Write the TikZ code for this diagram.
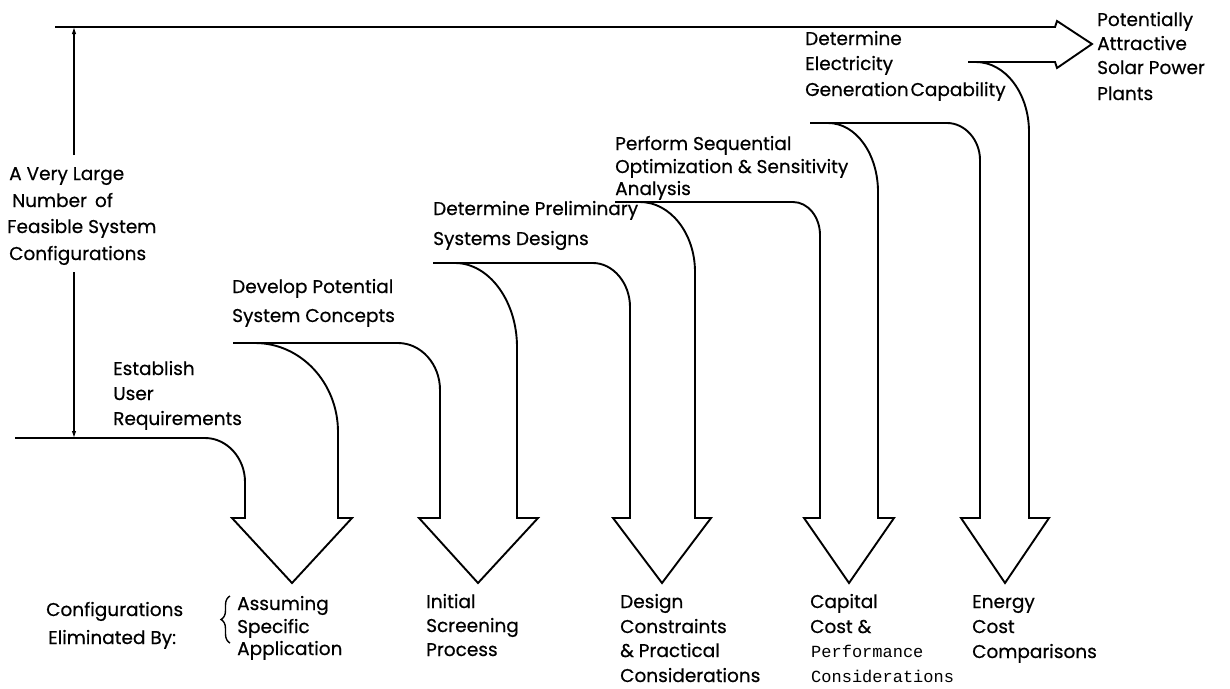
\documentclass[tikz,border=0pt]{standalone}
\usepackage{fontspec}
\setmainfont{Poppins}
\newfontfamily\lblsans{Poppins}[FakeBold=0.5]
\newfontfamily\lblmono{Liberation Mono}
\usetikzlibrary{arrows.meta,decorations.pathreplacing}
\begin{document}
\begin{tikzpicture}[x=1pt,y=-1pt,
  band/.style={line width=1.9pt, line join=miter},
  dim/.style={line width=1.1pt, -{Latex[length=7pt,width=4.5pt]}},
  lbl/.style={font=\lblsans\fontsize{18.5}{23}\selectfont, inner sep=0pt, anchor=base west},
  mono/.style={font=\lblmono\fontsize{17}{20}\selectfont, inner sep=0pt, anchor=base west}]
\fill[white] (0,0) rectangle (1230,688);
\useasboundingbox (0,0) rectangle (1230,688);

% top band with arrowhead
\draw[band] (968,62) -- (1055,62) -- (1057,68) -- (1092,44) -- (1057,21) -- (1055,27) -- (55,27);

% arrow 1
\draw[band] (15,438) -- (205,438) .. controls (227,438) and (245,458) .. (245,482)
  -- (245,518) -- (232,518) -- (292,583) -- (352,518) -- (338,518) -- (338,432)
  .. controls (338,383) and (301,343) .. (255,343);
% arrow 2
\draw[band] (233,343) -- (398,343) .. controls (421,343) and (440,364) .. (440,390)
  -- (440,518) -- (419,518) -- (478,583) -- (538,518) -- (517,518) -- (517,347)
  .. controls (517,301) and (489,263) .. (455,263);
% arrow 3
\draw[band] (433,263) -- (593,263) .. controls (613,263) and (630,283) .. (630,307)
  -- (630,518) -- (613,518) -- (662,583) -- (711,518) -- (695,518) -- (695,272)
  .. controls (695,233) and (670,202) .. (640,202);
% arrow 4
\draw[band] (615,202) -- (793,202) .. controls (808,202) and (820,217) .. (820,235)
  -- (820,518) -- (804,518) -- (849,583) -- (894,518) -- (878,518) -- (878,192)
  .. controls (878,154) and (856,123) .. (828,123);
% arrow 5
\draw[band] (810,123) -- (947,123) .. controls (965,123) and (980,140) .. (980,160)
  -- (980,518) -- (961,518) -- (1005,583) -- (1049,518) -- (1029,518) -- (1029,132)
  .. controls (1029,93) and (1005,62) .. (976,62);

% dimension line
\coordinate (dtop) at (74,27);
\coordinate (dbot) at (74,438);
\coordinate (dm1) at (74,155);
\coordinate (dm2) at (74,272);
\draw[dim] (dm1) -- (dtop);
\draw[dim] (dm2) -- (dbot);

% upper labels
\node[lbl] (a1) at (9,180) {A Very Large};
\node[lbl] (a2) at (12,207) {Number\, of};
\node[lbl] (a3) at (7,233) {Feasible System};
\node[lbl] (a4) at (9,260) {Configurations};

\node[lbl] (b1) at (113,375) {Establish};
\node[lbl] (b2) at (113,400) {User};
\node[lbl] (b3) at (113,425) {Requirements};

\node[lbl] (c1) at (232,293) {Develop Potential};
\node[lbl] (c2) at (232,322) {System Concepts};

\node[lbl] (d1) at (433,215) {Determine Preliminary};
\node[lbl] (d2) at (433,245) {Systems Designs};

\node[lbl] (e1) at (615,150) {Perform Sequential};
\node[lbl] (e2) at (615,173) {Optimization \& Sensitivity};
\node[lbl] (e3) at (615,195) {Analysis};

\node[lbl] (f1) at (805,45) {Determine};
\node[lbl] (f2) at (805,70) {Electricity};
\node[lbl] (f3) at (805,96) {Generation\hspace{0.1em}Capability};

\node[lbl] (g1) at (1097,26) {Potentially};
\node[lbl] (g2) at (1097,50) {Attractive};
\node[lbl] (g3) at (1097,74) {Solar Power};
\node[lbl] (g4) at (1097,100) {Plants};

% lower labels
\node[lbl] (h1) at (46,616) {Configurations};
\node[lbl] (h2) at (48,644) {Eliminated By:};
\draw[line width=1.4pt, decorate, decoration={brace, amplitude=9pt}] (230,643) -- (230,596);

\node[lbl] (i1) at (237,610) {Assuming};
\node[lbl] (i2) at (237,633) {Specific};
\node[lbl] (i3) at (237,655) {Application};

\node[lbl] (j1) at (426,608) {Initial};
\node[lbl] (j2) at (426,632) {Screening};
\node[lbl] (j3) at (426,656) {Process};

\node[lbl] (k1) at (620,608) {Design};
\node[lbl] (k2) at (620,633) {Constraints};
\node[lbl] (k3) at (620,657) {\& Practical};
\node[lbl] (k4) at (620,682) {Considerations};

\node[lbl] (l1) at (810,608) {Capital};
\node[lbl] (l2) at (810,633) {Cost \&};
\node[mono] (l3) at (811,657) {Performance};
\node[mono] (l4) at (811,682) {Considerations};

\node[lbl] (m1) at (972,608) {Energy};
\node[lbl] (m2) at (972,633) {Cost};
\node[lbl] (m3) at (972,658) {Comparisons};
\end{tikzpicture}
\end{document}
